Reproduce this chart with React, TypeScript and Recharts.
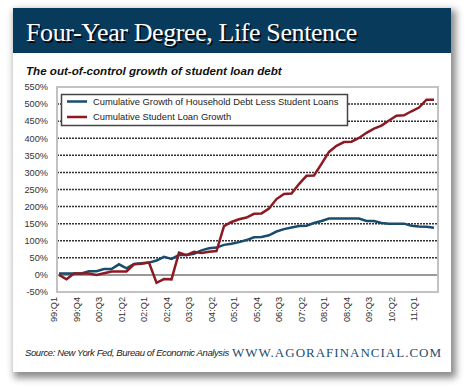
import { LineChart, Line, XAxis, YAxis, CartesianGrid, ReferenceLine } from 'recharts';

const quarters = [
  '99:Q1', '99:Q2', '99:Q3', '99:Q4', '00:Q1', '00:Q2', '00:Q3', '00:Q4',
  '01:Q1', '01:Q2', '01:Q3', '01:Q4', '02:Q1', '02:Q2', '02:Q3', '02:Q4',
  '03:Q1', '03:Q2', '03:Q3', '03:Q4', '04:Q1', '04:Q2', '04:Q3', '04:Q4',
  '05:Q1', '05:Q2', '05:Q3', '05:Q4', '06:Q1', '06:Q2', '06:Q3', '06:Q4',
  '07:Q1', '07:Q2', '07:Q3', '07:Q4', '08:Q1', '08:Q2', '08:Q3', '08:Q4',
  '09:Q1', '09:Q2', '09:Q3', '09:Q4', '10:Q1', '10:Q2', '10:Q3', '10:Q4',
  '11:Q1', '11:Q2', '11:Q3',
];

// cumulative growth, percent
const householdGrowth = [
  4, 4, 4, 4, 11, 11, 17, 17, 31, 19, 32, 34, 36, 42, 53, 47,
  58, 58, 62, 72, 78, 80, 88, 91, 96, 102, 110, 111, 116, 127, 134, 139,
  143, 144, 152, 158, 165, 165, 165, 165, 165, 158, 158, 152, 150, 150, 150, 144,
  142, 141, 138,
];

const studentLoanGrowth = [
  0, -13, 4, 4, 4, 0, 5, 10, 10, 10, 31, 33, 36, -23, -12, -13,
  65, 58, 68, 64, 68, 70, 143, 155, 163, 168, 179, 180, 194, 222, 237, 238,
  266, 290, 291, 325, 360, 378, 389, 390, 401, 416, 428, 437, 452, 466, 467, 479,
  490, 513, 513,
];

const yTicks = [-50, 0, 50, 100, 150, 200, 250, 300, 350, 400, 450, 500, 550];

const seriesNames = [
  'Cumulative Growth of Household Debt Less Student Loans',
  'Cumulative Student Loan Growth',
];
const seriesColors = ['#1a4c6d', '#8c1a22'];

const data = quarters.map((q, i) => ({
  q,
  household: householdGrowth[i],
  student: studentLoanGrowth[i],
}));

const sans = '"Liberation Sans", Arial, sans-serif';
const serif = '"Liberation Serif", "Times New Roman", serif';

function QuarterTick({ x, y, payload }: any) {
  return (
    <g transform={`translate(${x - 5},${y - 3})`}>
      <text transform="rotate(-90)" textAnchor="end" dy="0.35em" fontSize={9.2} fill="#333" fontFamily={sans}>
        {payload.value}
      </text>
    </g>
  );
}

export default function App() {
  return (
    <div style={{ position: 'absolute', left: 0, top: 0, width: 470, height: 392, background: '#fff', overflow: 'hidden' }}>
      <div
        style={{
          position: 'absolute', left: 13, top: 8, width: 438, height: 364,
          background: '#fff', boxShadow: '3px 4px 7px 2px rgba(0,0,0,0.45)',
        }}
      />
      <svg width={470} height={392} style={{ position: 'absolute', left: 0, top: 0 }}>
        <rect x={13} y={8} width={438} height={45} fill="#083a5c" />
        <text x={27.5} y={42.5} fontSize={26} fontFamily={serif} fill="#000" opacity={0.85} letterSpacing={-0.4}>
          Four-Year Degree, Life Sentence
        </text>
        <text x={26} y={41} fontSize={26} fontFamily={serif} fill="#fff" letterSpacing={-0.4}>
          Four-Year Degree, Life Sentence
        </text>
        <text x={26} y={74.5} fontSize={11.6} fontFamily={sans} fontWeight="bold" fontStyle="italic" fill="#111">
          The out-of-control growth of student loan debt
        </text>
        <text x={25} y={355.5} fontSize={9.5} fontFamily={sans} fontStyle="italic" fill="#222" letterSpacing={-0.4}>
          Source: New York Fed, Bureau of Economic Analysis
        </text>
        <text x={232} y={356.5} fontSize={13} fontFamily={serif} fill="#1d4d72" letterSpacing={1}>
          WWW.AGORAFINANCIAL.COM
        </text>
      </svg>

      <div style={{ position: 'absolute', left: 0, top: 0 }}>
        <LineChart width={470} height={392} data={data} margin={{ top: 87, right: 32, bottom: 60, left: 0 }}>
          <CartesianGrid vertical={false} stroke="#333" strokeDasharray="2 1" strokeWidth={1.5} />
          <XAxis
            dataKey="q"
            interval={2}
            height={40}
            padding={{ left: 2, right: 4 }}
            axisLine={false}
            tickLine={false}
            tick={<QuarterTick />}
          />
          <YAxis
            width={57}
            domain={[-50, 550]}
            ticks={yTicks}
            interval={0}
            axisLine={false}
            tickLine={false}
            tickMargin={3}
            tickFormatter={(v) => `${v}%`}
            tick={{ fontSize: 9.2, fill: '#333', fontFamily: sans }}
          />
          <ReferenceLine y={0} stroke="#999" strokeWidth={2} />
          <Line
            dataKey="household"
            name={seriesNames[0]}
            stroke={seriesColors[0]}
            strokeWidth={2.5}
            dot={false}
            type="linear"
            isAnimationActive={false}
          />
          <Line
            dataKey="student"
            name={seriesNames[1]}
            stroke={seriesColors[1]}
            strokeWidth={2.5}
            dot={false}
            type="linear"
            isAnimationActive={false}
          />
        </LineChart>
      </div>

      <svg width={470} height={392} style={{ position: 'absolute', left: 0, top: 0, pointerEvents: 'none' }}>
        <rect x={57} y={87} width={381} height={205} fill="none" stroke="#c2c2c2" strokeWidth={2} />
        <rect x={61.5} y={94.5} width={286} height={31} fill="#fff" stroke="#444" strokeWidth={1.5} />
        {seriesNames.map((name, i) => (
          <g key={name}>
            <line x1={67} x2={87} y1={101.5 + i * 15.5} y2={101.5 + i * 15.5} stroke={seriesColors[i]} strokeWidth={2.5} />
            <text x={93} y={101.5 + i * 15.5} dy="0.35em" fontSize={9.4} fontFamily={sans} fill="#222">
              {name}
            </text>
          </g>
        ))}
      </svg>
    </div>
  );
}
